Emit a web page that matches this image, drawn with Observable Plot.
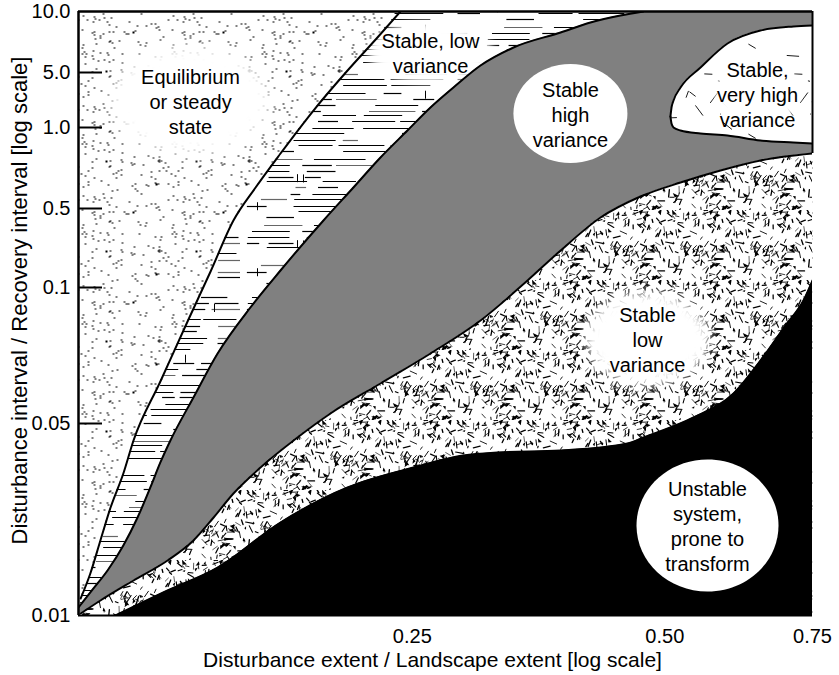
<!DOCTYPE html>
<html>
<head>
<meta charset="utf-8">
<script src="https://cdn.jsdelivr.net/npm/d3@7"></script>
<script src="https://cdn.jsdelivr.net/npm/@observablehq/plot@0.6"></script>
<style>body{margin:0;background:#fff}</style>
</head>
<body>
<div id="chart"></div>
<script>
// ---------- data ----------
const xTicks = [0.25, 0.5, 0.75];
const xTickLabels = ["0.25", "0.50", "0.75"];
const xDomain = [0.1, 0.75];
const yTicks = [0.01, 0.05, 0.1, 0.5, 1, 5, 10];
const yTickLabels = ["0.01", "0.05", "0.1", "0.5", "1.0", "5.0", "10.0"];
const xTitle = "Disturbance extent / Landscape extent [log scale]";
const yTitle = "Disturbance interval / Recovery interval [log scale]";

// boundary: equilibrium (stipple) | stable, low variance (dashes)
const aX = [0.1006,0.1033,0.1062,0.1092,0.1131,0.1163,0.1252,0.1349,0.1437,0.1530,0.1626,0.1741,0.1906,0.2093,0.2272,0.2420];
const aY = [0.01354,0.01875,0.02563,0.0325,0.03958,0.04646,0.06544,0.0875,0.1810,0.4392,0.6296,0.8395,2.236,5.164,7.869,10];
// boundary: dashes | stable high variance (grey)
const bX = [0.1,0.1042,0.1083,0.1131,0.1176,0.1218,0.1252,0.1287,0.1371,0.1465,0.1603,0.1741,0.1959,0.2127,0.2291,0.2467,0.2628,0.2799,0.3015,0.3301,0.3756,0.4077,0.4427,0.4716];
const bY = [0.01167,0.01563,0.01938,0.02458,0.03042,0.03667,0.04188,0.04646,0.05956,0.07574,0.09265,0.1861,0.4392,0.6296,0.8148,0.9815,2.4545,3.9091,5.5738,7.0492,8.2787,9.0984,9.6721,10];
// boundary: grey | stable low variance (speckle)
const cX = [0.1006,0.1062,0.1163,0.1277,0.1371,0.1449,0.1530,0.1648,0.1824,0.1997,0.2291,0.2628,0.3015,0.3430,0.3756,0.4191,0.4677,0.5220,0.5826,0.6502,0.75];
const cY = [0.01042,0.01313,0.01729,0.02146,0.02563,0.03042,0.03542,0.04083,0.04708,0.05368,0.06471,0.07574,0.08787,0.1354,0.2873,0.4544,0.5741,0.6605,0.7346,0.7963,0.8395];
// boundary: speckle | unstable (black)
const dX = [0.1107,0.1277,0.1465,0.1741,0.2093,0.2508,0.2877,0.3159,0.3756,0.4513,0.4716,0.5410,0.6038,0.6502,0.6964,0.7316,0.75];
const dY = [0.01,0.01521,0.02,0.02938,0.03667,0.04083,0.04333,0.04396,0.04438,0.04583,0.04708,0.05221,0.06103,0.07316,0.08603,0.09522,0.1354];
// tongue: stable, very high variance
const tX = [0.5078,0.5093,0.5121,0.5220,0.5515,0.5939,0.6502,0.7117,0.75];
const tTop = [1.8,2.4545,2.9636,3.9091,5.4098,7.377,8.4426,8.7705,8.8525];
const tBottom = [1.8,1.2909,1.0,0.9815,0.963,0.9506,0.9198,0.9074,0.9012];

// region labels
const labelText = ["Equilibrium\nor steady\nstate", "Stable, low\nvariance", "Stable\nhigh\nvariance", "Stable,\nvery high\nvariance", "Stable\nlow\nvariance", "Unstable\nsystem,\nprone to\ntransform"];
const labelX = [0.1360, 0.2628, 0.3859, 0.6449, 0.4768, 0.5622];
const labelY = [2.9636, 6.639, 2.018, 3.4727, 0.08125, 0.02875];

// ---------- build ----------
const pts = (xs, ys) => xs.map((x, i) => ({x, y: ys[i]}));
const A = pts(aX, aY), B = pts(bX, bY), C = pts(cX, cY), D = pts(dX, dY);
const xMax = xDomain[1], xMin = xDomain[0];
const yMax = yTicks[yTicks.length - 1], yMin = yTicks[0];
const tongue = tX.map((x, i) => ({x, top: tTop[i], bottom: tBottom[i]}));

function ellipseSymbol(aspect) {
  return {
    draw(ctx, size) {
      const rx = Math.sqrt(size / Math.PI), ry = rx * aspect, k = 0.5523;
      ctx.moveTo(rx, 0);
      ctx.bezierCurveTo(rx, ry * k, rx * k, ry, 0, ry);
      ctx.bezierCurveTo(-rx * k, ry, -rx, ry * k, -rx, 0);
      ctx.bezierCurveTo(-rx, -ry * k, -rx * k, -ry, 0, -ry);
      ctx.bezierCurveTo(rx * k, -ry, rx, -ry * k, rx, 0);
      ctx.closePath();
    }
  };
}
const ellipseStyle = [
  {rx: 80, aspect: 0.68, blur: 7},
  {rx: 62, aspect: 0.5, blur: 5},
  {rx: 57, aspect: 0.87, blur: 0},
  {rx: 42, aspect: 0.8, blur: 3},
  {rx: 62, aspect: 0.76, blur: 6},
  {rx: 71, aspect: 0.93, blur: 0}
];
const ellipse = (i) => {
  const e = ellipseStyle[i];
  return Plot.dot([i], {
    x: (j) => labelX[j], y: (j) => labelY[j], r: e.rx, symbol: ellipseSymbol(e.aspect),
    fill: "white", stroke: "none", imageFilter: e.blur ? `blur(${e.blur}px)` : undefined
  });
};

const line = (data, opts = {}) => Plot.line(data, {x: "x", y: "y", stroke: "black", strokeWidth: 2, curve: "monotone-x", clip: true, ...opts});

const svg = Plot.plot({
  width: 839,
  height: 675,
  marginLeft: 78,
  marginRight: 27,
  marginTop: 11,
  marginBottom: 60,
  style: {fontFamily: "'Liberation Sans', Arial, Helvetica, sans-serif", background: "white", color: "black"},
  x: {type: "log", domain: xDomain},
  y: {type: "linear", domain: yTicks, range: [615, 423, 287, 208, 127, 72, 11]},
  marks: [
    Plot.frame({fill: "url(#pDots)", stroke: "none"}),
    ellipse(0),
    Plot.area([...A, {x: xMax, y: yMax}], {x1: "x", y1: "y", y2: yMin, fill: "url(#pDash)", curve: "monotone-x", clip: true}),
    ellipse(1),
    Plot.area([...B, {x: xMax, y: yMax}], {x1: "x", y1: "y", y2: yMin, fill: "#808080", curve: "monotone-x", clip: true}),
    ellipse(2),
    Plot.area(tongue, {x1: "x", y1: "top", y2: "bottom", fill: "url(#pSparse)", curve: "monotone-x", clip: true}),
    ellipse(3),
    Plot.area(C, {x1: "x", y1: "y", y2: yMin, fill: "url(#pSpeck)", curve: "monotone-x", clip: true}),
    ellipse(4),
    Plot.area(D, {x1: "x", y1: "y", y2: yMin, fill: "black", curve: "monotone-x", clip: true}),
    ellipse(5),
    line(A), line(B), line(C), line(D),
    line(tongue, {y: "top"}), line(tongue, {y: "bottom"}),
    Plot.ruleX([xMin], {strokeWidth: 2.5}),
    Plot.ruleY([yMax], {strokeWidth: 2.5}),
    Plot.ruleY([yMin], {strokeWidth: 2}),
    Plot.ruleX([xMax], {y1: cY[cY.length - 1], y2: yMax, strokeWidth: 2}),
    Plot.axisY(yTicks.slice(1, -1), {tickSize: -24, strokeWidth: 2, tickFormat: () => "", label: null}),
    Plot.axisY(yTicks, {tickSize: 0, tickPadding: 8, fontSize: 20, tickFormat: (d) => yTickLabels[yTicks.indexOf(d)], label: null}),
    Plot.axisX(xTicks, {tickSize: 0, tickPadding: 13, fontSize: 20, tickFormat: (d) => xTickLabels[xTicks.indexOf(d)], label: null}),
    Plot.text(labelText.map((t, i) => i), {x: (i) => labelX[i], y: (i) => labelY[i], text: (i) => labelText[i], fontSize: 20, lineHeight: 1.25, fill: "black"}),
    Plot.text([xTitle], {frameAnchor: "bottom", lineAnchor: "middle", textAnchor: "middle", dy: 45, dx: -13, fontSize: 21, fill: "black"}),
    Plot.text([yTitle], {frameAnchor: "left", lineAnchor: "middle", textAnchor: "middle", rotate: -90, dx: -59, dy: -13, fontSize: 22, fill: "black"})
  ]
});

// ---------- textures ----------
(function addPatterns(svg) {
  const rnd = d3.randomLcg(0.4242);
  const defs = d3.select(svg).insert("defs", ":first-child");
  function pat(id, w, h) {
    const p = defs.append("pattern").attr("id", id).attr("patternUnits", "userSpaceOnUse").attr("width", w).attr("height", h);
    p.append("rect").attr("width", w).attr("height", h).attr("fill", "white");
    return p;
  }
  // stipple
  const pd = pat("pDots", 90, 90);
  for (let i = 0; i < 135; i++) {
    pd.append("rect").attr("x", Math.floor(rnd() * 88)).attr("y", Math.floor(rnd() * 89)).attr("width", 2).attr("height", 1)
      .attr("fill", "#000").attr("shape-rendering", "crispEdges");
  }
  // horizontal dashes
  const W = 240, H = 66;
  const ph = pat("pDash", W, H);
  for (let row = 0; row < 11; row++) {
    const y = row * 6 + 1.5 + Math.floor(rnd() * 3);
    let x = rnd() * 30;
    while (x < W) {
      const len = 8 + rnd() * 45;
      if (rnd() < 0.58) {
        ph.append("line").attr("x1", x).attr("x2", Math.min(W, x + len)).attr("y1", y).attr("y2", y)
          .attr("stroke", rnd() < 0.2 ? "#666" : "#000").attr("stroke-width", 1.2);
      }
      x += len + 2 + rnd() * 18;
    }
  }
  for (let i = 0; i < 5; i++) {
    const x = Math.floor(rnd() * W) + 0.5, y = rnd() * (H - 10);
    ph.append("line").attr("x1", x).attr("x2", x).attr("y1", y).attr("y2", y + 8).attr("stroke", "#000").attr("stroke-width", 1);
  }
  // dense speckle
  const S = 70;
  const ps = pat("pSpeck", S, S);
  for (let i = 0; i < 125; i++) {
    const x = rnd() * S, y = rnd() * S, a = rnd() * Math.PI * 2, l = 2.5 + rnd() * 5;
    ps.append("line").attr("x1", x).attr("y1", y).attr("x2", x + l * Math.cos(a)).attr("y2", y + l * Math.sin(a))
      .attr("stroke", "#000").attr("stroke-width", 0.6 + rnd() * 0.8).attr("stroke-linecap", "round");
  }
  for (let i = 0; i < 38; i++) {
    const x = rnd() * S, y = rnd() * S, s = 1.5 + rnd() * 2.5, a = rnd() * Math.PI * 2;
    const p = [[x + s * Math.cos(a), y + s * Math.sin(a)], [x + s * Math.cos(a + 2.3), y + s * Math.sin(a + 2.3)], [x + 0.5 * s * Math.cos(a + 4), y + 0.5 * s * Math.sin(a + 4)]];
    ps.append("polygon").attr("points", p.map(q => q.join(",")).join(" ")).attr("fill", "#000");
  }
  // sparse strokes
  const V = 90;
  const pv = pat("pSparse", V, V);
  for (let i = 0; i < 18; i++) {
    const x = rnd() * V, y = rnd() * V, a = rnd() * Math.PI * 2, l = 7 + rnd() * 7;
    pv.append("line").attr("x1", x).attr("y1", y).attr("x2", x + l * Math.cos(a)).attr("y2", y + l * Math.sin(a))
      .attr("stroke", "#000").attr("stroke-width", 0.9);
  }
})(svg);

document.getElementById("chart").append(svg);
</script>
</body>
</html>
